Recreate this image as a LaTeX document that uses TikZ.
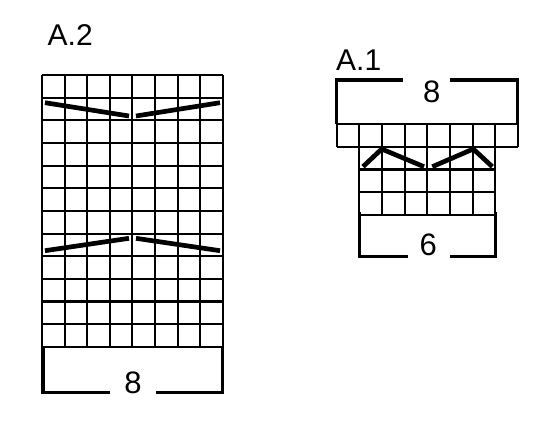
\documentclass[tikz,border=0pt]{standalone}
\usepackage{fontspec}
\setmainfont{Liberation Sans}
\usetikzlibrary{positioning}

\begin{document}
\begin{tikzpicture}[x=1pt, y=-1pt,
	gridline/.style={line width=2.1pt},
	bracket/.style={line width=3.1pt},
	decrease/.style={line width=4.7pt},
	title/.style={font=\fontsize{30}{36}\selectfont, anchor=base west, inner sep=0pt},
	count/.style={font=\fontsize{31}{36}\selectfont, anchor=base, inner sep=0pt}]
	\useasboundingbox (0,0) rectangle (550,426);

	% A.2
	\draw (47.5, 45) node[title] (titleA2) {A.2};
	\foreach \i in {0,...,8}{
		\draw[gridline] ({42+\i*22.6}, 75) -- ({42+\i*22.6}, 346.8);
	}
	\foreach \j in {0,...,12}{
		\draw[gridline] (42, {75+\j*22.65}) -- (222.8, {75+\j*22.65});
	}
	\draw[decrease] (45, 102.7) -- (129, 116);
	\draw[decrease] (136, 116) -- (220, 102.7);
	\draw[decrease] (45, 250.7) -- (129, 238.3);
	\draw[decrease] (136, 238.3) -- (220, 250.7);

	\draw (133, 393) node[count] (countA2) {8};
	\draw[bracket] (43, 346.8) -- (43, 392.5) -- (110, 392.5);
	\draw[bracket] (156, 392.5) -- (222.8, 392.5) -- (222.8, 346.8);

	% A.1
	\draw (336, 70) node[title] (titleA1) {A.1};
	\draw (431.7, 102.7) node[count] (topcountA1) {8};
	\draw[bracket] (336.7, 124) -- (336.7, 80) -- (403, 80);
	\draw[bracket] (450, 80) -- (517.9, 80) -- (517.9, 124);

	\foreach \i in {0,...,8}{
		\draw[gridline] ({336.7+\i*22.65}, 124) -- ({336.7+\i*22.65}, 146.65);
	}
	\draw[gridline] (336.7, 124) -- (517.9, 124);
	\draw[gridline] (336.7, 146.65) -- (517.9, 146.65);
	\foreach \i in {1,...,7}{
		\draw[gridline] ({336.7+\i*22.65}, 146.65) -- ({336.7+\i*22.65}, 215);
	}
	\foreach \j in {2,3,4}{
		\draw[gridline] (359.35, {124+\j*22.75}) -- (495.25, {124+\j*22.75});
	}
	\draw[decrease] (363, 166.7) -- (381.7, 149) -- (424, 166.7);
	\draw[decrease] (432.3, 166.7) -- (473.3, 149) -- (492.3, 166.7);

	\draw (428.3, 255) node[count] (botcountA1) {6};
	\draw[bracket] (359.35, 212) -- (359.35, 256.5) -- (408, 256.5);
	\draw[bracket] (450, 256.5) -- (495.25, 256.5) -- (495.25, 212);
\end{tikzpicture}
\end{document}
